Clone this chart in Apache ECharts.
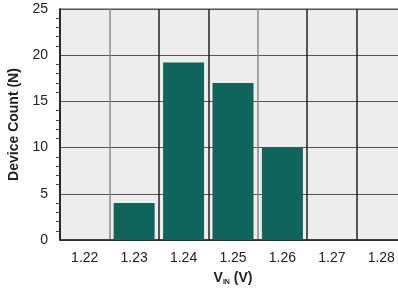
<!DOCTYPE html>
<html><head><meta charset="utf-8">
<script src="https://cdn.jsdelivr.net/npm/echarts@6/dist/echarts.min.js"></script>
<style>html,body{margin:0;padding:0;background:#fff}#c{width:398px;height:293px}</style>
</head><body><div id="c"></div>
<script>
const categories = ['1.22','1.23','1.24','1.25','1.26','1.27','1.28'];
const deviceCount = [0, 4, 19.2, 17, 10, 0, 0];
const yTicks = [0, 5, 10, 15, 20, 25];

const chart = echarts.init(document.getElementById('c'), null, {renderer:'canvas'});
chart.setOption({
  animation: false,
  textStyle: {fontFamily: 'Liberation Sans, Arial, sans-serif'},
  grid: {left: 60, top: 9, width: 346, height: 231, outerBoundsMode: 'none', containLabel: false, show: true, backgroundColor: '#ededed', borderColor: '#888', borderWidth: 1.5},
  xAxis: {
    type: 'category', data: categories, boundaryGap: true,
    axisLine: {show: true, lineStyle: {color: '#222', width: 1.5}},
    axisTick: {show: false},
    axisLabel: {fontSize: 14, color: '#222', margin: 11},
    splitLine: {show: true, lineStyle: {color: ['#222', '#888', '#222'], width: 1.5}},
    name: '{v|V}{s|IN}{v| (V)}', nameLocation: 'middle', nameGap: 31,
    nameTextStyle: {rich: {v: {fontSize: 14, fontWeight: 'bold', color: '#222'}, s: {fontSize: 7, fontWeight: 'bold', color: '#222', padding: [8,0,0,0]}}}
  },
  yAxis: {
    type: 'value', min: yTicks[0], max: yTicks[yTicks.length-1], interval: 5,
    axisLine: {show: true, lineStyle: {color: '#222', width: 1.5}},
    axisTick: {show: false},
    minorTick: {show: true, splitNumber: 5, length: 4, lineStyle: {color: '#444', width: 1}},
    axisLabel: {fontSize: 14, color: '#222', margin: 12},
    splitLine: {show: true, lineStyle: {color: '#555', width: 1.2}},
    name: 'Device Count (N)', nameLocation: 'middle', nameGap: 38,
    nameTextStyle: {fontSize: 14, fontWeight: 'bold', color: '#222'}
  },
  series: [{
    type: 'bar', data: deviceCount, barWidth: 41,
    itemStyle: {color: '#0f655b'}
  }]
});
</script></body></html>
